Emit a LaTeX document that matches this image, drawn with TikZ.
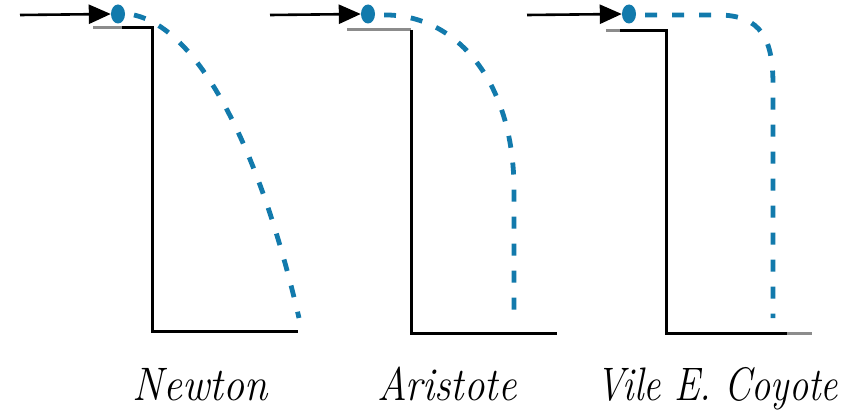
\documentclass[tikz,border=0pt]{standalone}
\usepackage{fontspec}
\usetikzlibrary{arrows.meta,shapes.geometric}
\definecolor{fallblue}{RGB}{18,122,172}
\definecolor{ledgegray}{RGB}{140,140,140}
\newcommand\fitlabel[2]{\resizebox{#1}{\height}{\itshape #2}}
\tikzset{
  pushline/.style={line width=2.6pt,black,-{Triangle[length=22pt,width=19pt]}},
  ball/.style={ellipse,fill=fallblue,inner sep=0pt,minimum width=14pt,minimum height=19pt},
  cliff/.style={line width=3pt,black},
  ledge/.style={line width=3pt,ledgegray},
  path/.style={line width=4.8pt,fallblue,dash pattern=on 12pt off 15pt},
  lab/.style={anchor=base,inner sep=0pt,font=\fontsize{47}{52}\selectfont}
}
\begin{document}
\begin{tikzpicture}[x=1pt,y=-1pt]
\useasboundingbox[fill=white] (0,0) rectangle (848,412);

% ---------- Newton ----------
\node[ball] (d1) at (118,14) {};
\coordinate (s1) at (20,15);
\draw[pushline] (s1) -- (d1.west);
\coordinate (l1a) at (93,28);
\coordinate (l1b) at (122,28);
\coordinate (c1a) at (152,28);
\coordinate (c1b) at (152,331);
\coordinate (c1c) at (298,331);
\draw[ledge] (l1a) -- (l1b);
\draw[cliff] (l1b) -- (c1a) -- (c1b) -- (c1c);
\coordinate (p1a) at (134,15);
\coordinate (p1b) at (299,318);
\draw[path] (p1a) .. controls (200,30) and (260,150) .. (p1b);
\node[lab] (n1) at (200,400) {\fitlabel{135pt}{Newton}};

% ---------- Aristote ----------
\node[ball] (d2) at (368,14) {};
\coordinate (s2) at (270,15);
\draw[pushline] (s2) -- (d2.west);
\coordinate (l2a) at (347,30);
\coordinate (c2a) at (411,30);
\coordinate (c2b) at (411,333);
\coordinate (c2c) at (557,333);
\draw[ledge] (l2a) -- (c2a);
\draw[cliff] (c2a) -- (c2b) -- (c2c);
\coordinate (p2a) at (384,15);
\coordinate (p2m) at (514,190);
\coordinate (p2b) at (514,319);
\draw[path] (p2a) .. controls (455,14) and (514,80) .. (p2m) -- (p2b);
\node[lab] (n2) at (447,400) {\fitlabel{139pt}{Aristote}};

% ---------- Vile E. Coyote ----------
\node[ball] (d3) at (629,14) {};
\coordinate (s3) at (527,15);
\draw[pushline] (s3) -- (d3.west);
\coordinate (l3a) at (606,31);
\coordinate (l3b) at (620,31);
\coordinate (c3a) at (666,31);
\coordinate (c3b) at (666,333);
\coordinate (c3c) at (787,333);
\coordinate (c3d) at (812,333);
\draw[ledge] (l3a) -- (l3b);
\draw[cliff] (l3b) -- (c3a) -- (c3b) -- (c3c);
\draw[ledge] (c3c) -- (c3d);
\coordinate (p3a) at (645,15);
\coordinate (p3m) at (718,15);
\coordinate (p3n) at (773,85);
\coordinate (p3b) at (773,318);
\draw[path] (p3a) -- (p3m) .. controls (762,15) and (773,40) .. (p3n) -- (p3b);
\node[lab] (n3) at (717,400) {\fitlabel{242pt}{Vile E. Coyote}};
\end{tikzpicture}
\end{document}
